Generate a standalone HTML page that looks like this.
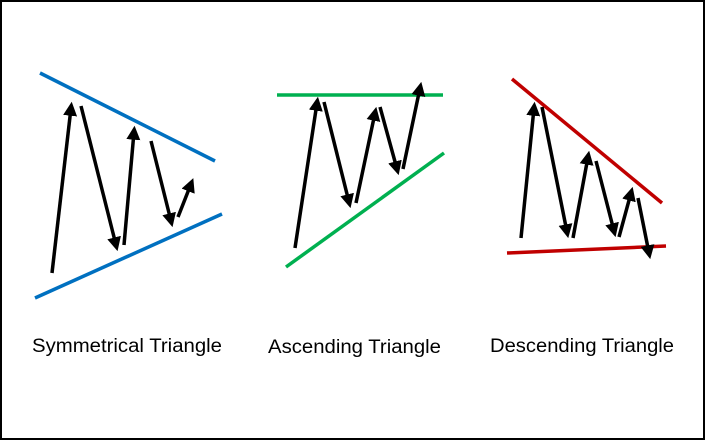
<!DOCTYPE html>
<html><head><style>
html,body{margin:0;padding:0;background:#fff;}
svg{display:block;}
</style></head><body>
<svg width="705" height="440" viewBox="0 0 705 440" xmlns="http://www.w3.org/2000/svg">
<defs>
<marker id="a" markerWidth="4" markerHeight="4" refX="2.2" refY="2" orient="auto" markerUnits="strokeWidth">
<path d="M0,0 L4,2 L0,4 Z" fill="#000"/>
</marker>
</defs>
<rect x="1" y="1" width="703" height="438" fill="#fff" stroke="#000" stroke-width="2"/>
<g stroke-width="3.5" stroke-linecap="butt">
<line x1="40" y1="73" x2="215" y2="161" stroke="#0070C0"/>
<line x1="35" y1="298" x2="222" y2="214" stroke="#0070C0"/>
<line x1="277" y1="95" x2="443" y2="95" stroke="#00B050"/>
<line x1="286" y1="267" x2="444" y2="153" stroke="#00B050"/>
<line x1="512" y1="79" x2="662" y2="203" stroke="#C00000"/>
<line x1="507" y1="253" x2="666" y2="246" stroke="#C00000"/>
</g>
<g stroke="#000" stroke-width="3.5" marker-end="url(#a)">
<line x1="52" y1="273" x2="71" y2="108"/>
<line x1="81" y1="106" x2="116" y2="245"/>
<line x1="124" y1="245" x2="134" y2="132"/>
<line x1="151" y1="141" x2="171" y2="221"/>
<line x1="178" y1="217" x2="191" y2="184"/>
<line x1="295" y1="248" x2="317" y2="103"/>
<line x1="324" y1="102" x2="349" y2="202"/>
<line x1="356" y1="203" x2="375" y2="113"/>
<line x1="380" y1="107" x2="397" y2="169"/>
<line x1="403" y1="169" x2="420" y2="88"/>
<line x1="521" y1="238" x2="534" y2="108"/>
<line x1="542" y1="107" x2="567" y2="232"/>
<line x1="573" y1="238" x2="588" y2="157"/>
<line x1="596" y1="161" x2="614" y2="231"/>
<line x1="619" y1="237" x2="631" y2="193"/>
<line x1="638" y1="198" x2="649" y2="253"/>
</g>
<g font-family="Liberation Sans, sans-serif" font-size="19" fill="#000">
<text x="32" y="352" textLength="190" lengthAdjust="spacingAndGlyphs">Symmetrical Triangle</text>
<text x="268" y="353" textLength="173" lengthAdjust="spacingAndGlyphs">Ascending Triangle</text>
<text x="490" y="352" textLength="184" lengthAdjust="spacingAndGlyphs">Descending Triangle</text>
</g>
</svg>
</body></html>
